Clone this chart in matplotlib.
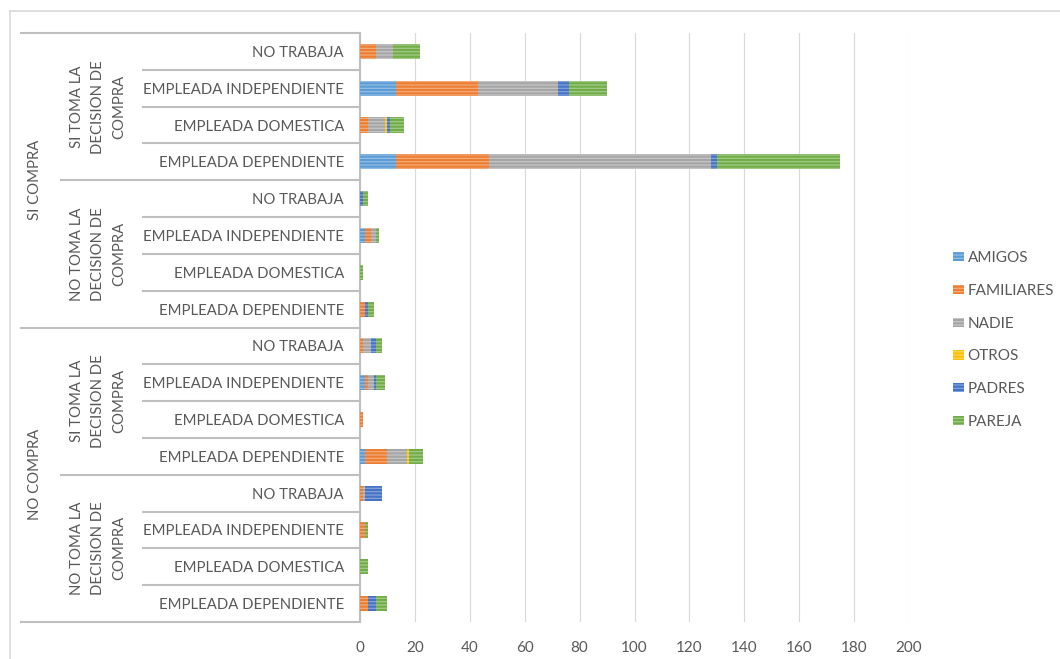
import matplotlib
matplotlib.use("Agg")
import matplotlib.pyplot as plt
import matplotlib.transforms as mtransforms
from matplotlib.patches import Patch
from matplotlib.lines import Line2D
import numpy as np

plt.rcParams['font.family'] = ['Lato', 'DejaVu Sans']
plt.rcParams['hatch.linewidth'] = 0.9

# Categories, listed bottom-to-top (outer level, middle level, inner level)
outer_groups = ["NO COMPRA", "SI COMPRA"]
middle_groups = ["NO TOMA LA\nDECISION DE\nCOMPRA", "SI TOMA LA\nDECISION DE\nCOMPRA"]
inner_labels = ["EMPLEADA DEPENDIENTE", "EMPLEADA DOMESTICA",
                "EMPLEADA INDEPENDIENTE", "NO TRABAJA"]

series_names = ["AMIGOS", "FAMILIARES", "NADIE", "OTROS", "PADRES", "PAREJA"]
amigos     = [0, 0, 0, 0,  2, 0, 2, 0,  0, 0, 2, 0,  13, 0, 13, 0]
familiares = [3, 0, 2, 1,  8, 1, 1, 1,  2, 0, 2, 0,  34, 3, 30, 6]
nadie      = [0, 0, 0, 1,  7, 0, 2, 3,  0, 0, 2, 0,  81, 6, 29, 6]
otros      = [0, 0, 0, 0,  1, 0, 0, 0,  0, 0, 0, 0,   0, 1, 0, 0]
padres     = [3, 0, 0, 6,  0, 0, 1, 2,  1, 0, 0, 1,   2, 1, 4, 0]
pareja     = [4, 3, 1, 0,  5, 0, 3, 2,  2, 1, 1, 2,  45, 5, 14, 10]
series_values = [amigos, familiares, nadie, otros, padres, pareja]

fill_colors = ["#5B9BD5", "#ED7D31", "#A5A5A5", "#FFC000", "#4472C4", "#70AD47"]


def lighten(hex_color, amount):
    rgb = np.array(matplotlib.colors.to_rgb(hex_color))
    return tuple(rgb + (1 - rgb) * amount)


stripe_colors = [lighten(c, 0.35) for c in fill_colors]

W, H = 1060, 659
fig = plt.figure(figsize=(W / 100, H / 100), dpi=100)


def fx(p):
    return p / W


def fy(p):
    return 1 - p / H


ax = fig.add_axes([fx(360), fy(622), fx(909) - fx(360), fy(33) - fy(622)])

n = len(amigos)
ypos = np.arange(n)
left = np.zeros(n)
for vals, fc, sc, name in zip(series_values, fill_colors, stripe_colors, series_names):
    vals = np.array(vals, dtype=float)
    ax.barh(ypos, vals, left=left, height=0.41, color=fc, edgecolor=sc,
            linewidth=0, hatch="-----", label=name, zorder=3)
    left += vals

ax.set_xlim(0, 200)
ax.set_ylim(-0.5, n - 0.5)
ax.set_xticks(np.arange(0, 201, 20))
ax.set_yticks([])
ax.grid(axis="x", color="#D9D9D9", linewidth=0.8, zorder=0)
ax.tick_params(axis="x", length=0, pad=13.5, labelsize=11, labelcolor="#595959")
for s in ["top", "right", "bottom"]:
    ax.spines[s].set_visible(False)
ax.spines["left"].set_color("#BFBFBF")
ax.spines["left"].set_linewidth(1.5)

# Multi-level category axis drawn in the label area
trans = mtransforms.blended_transform_factory(fig.transFigure, ax.transData)
line_kw = dict(color="#BFBFBF", linewidth=1.5, transform=trans, clip_on=False,
               solid_capstyle="butt")
for k in range(n + 1):
    yb = k - 0.5
    if k % 8 == 0:
        x0 = 20
    elif k % 4 == 0:
        x0 = 60
    else:
        x0 = 142
    ax.add_line(Line2D([fx(x0), fx(360)], [yb, yb], **line_kw))

text_kw = dict(transform=trans, color="#595959", fontsize=10.7, clip_on=False)
for i in range(n):
    ax.text(fx(344), i, inner_labels[i % 4], ha="right", va="center_baseline",
            **text_kw)
for g in range(4):
    center = g * 4 + 1.5
    ax.text(fx(98), center, middle_groups[g % 2], ha="center", va="center",
            rotation=90, linespacing=1.65, multialignment="center", **text_kw)
for g in range(2):
    center = g * 8 + 3.5
    ax.text(fx(35), center, outer_groups[g], ha="center", va="center",
            rotation=90, **text_kw)

# Chart area border
fig.add_artist(Line2D([fx(10), fx(10)], [fy(11), 0], color="#D9D9D9", linewidth=1.2))
fig.add_artist(Line2D([fx(10), 1], [fy(11), fy(11)], color="#D9D9D9", linewidth=1.2))

handles = [Patch(facecolor=fc, edgecolor=sc, linewidth=0, hatch="-----")
           for fc, sc in zip(fill_colors, stripe_colors)]
fig.legend(handles, series_names, loc="center left",
           bbox_to_anchor=(fx(953), fy(340)), frameon=False, fontsize=11,
           labelcolor="#595959", handlelength=0.75, handleheight=0.55,
           handletextpad=0.2, labelspacing=1.23, borderpad=0, borderaxespad=0)

fig.savefig("out.png", dpi=100, facecolor="white")
